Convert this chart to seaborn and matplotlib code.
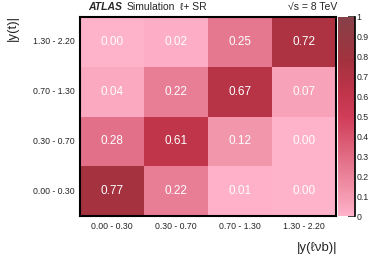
import numpy as np
import pandas as pd
import seaborn as sns
import matplotlib.pyplot as plt
from matplotlib.colors import LinearSegmentedColormap

# rows top -> bottom, columns left -> right
y_t_bins = ['1.30 - 2.20', '0.70 - 1.30', '0.30 - 0.70', '0.00 - 0.30']
y_lvb_bins = ['0.00 - 0.30', '0.30 - 0.70', '0.70 - 1.30', '1.30 - 2.20']
row_1 = [0.00, 0.02, 0.25, 0.72]
row_2 = [0.04, 0.22, 0.67, 0.07]
row_3 = [0.28, 0.61, 0.12, 0.00]
row_4 = [0.77, 0.22, 0.01, 0.00]

df = pd.DataFrame([row_1, row_2, row_3, row_4], index=y_t_bins, columns=y_lvb_bins)

sns.set_style('white')
plt.rcParams['font.family'] = ['Liberation Sans', 'DejaVu Sans']

cmap = LinearSegmentedColormap.from_list('atlas_pink', [
    (0.0, '#ffb3cb'), (0.12, '#f295ab'), (0.25, '#e5778f'),
    (0.5, '#d03c58'), (0.62, '#c0344a'), (0.78, '#a3323e'), (1.0, '#874048')])

fig = plt.figure(figsize=(3.82, 2.59), dpi=100)
ax = fig.add_axes([80/382, 1-216/259, 256/382, 199/259])
cax = fig.add_axes([338/382, 1-216/259, 17/382, 199/259])

sns.heatmap(df, ax=ax, cbar_ax=cax, cmap=cmap, vmin=0, vmax=1,
            annot=True, fmt='.2f', annot_kws={'color': 'white', 'fontsize': 8.5})

# cell-boundary ticks on all sides, labels at centres
ax.set_xticks([1, 2, 3], minor=True)
ax.set_yticks([1, 2, 3], minor=True)
ax.tick_params(which='major', length=0, labelsize=6.3, pad=4)
ax.tick_params(which='minor', direction='in', length=4, width=1.2,
               top=True, bottom=True, left=True, right=True)
ax.set_xticklabels(y_lvb_bins, rotation=0)
ax.set_yticklabels(y_t_bins, rotation=0)
ax.set_xlabel('')
ax.set_ylabel('')
for s in ax.spines.values():
    s.set_visible(True)
    s.set_linewidth(1.5)
    s.set_color('black')

cax.set_yticks(np.arange(0, 1.01, 0.1))
cax.set_yticklabels(['0'] + ['%.1f' % v for v in np.arange(0.1, 0.95, 0.1)] + ['1'])
cax.tick_params(direction='in', length=5, width=1.2, labelsize=6.3, pad=1, right=True)
for name, s in cax.spines.items():
    s.set_visible(name == 'right')
    s.set_linewidth(1.2)
    s.set_color('black')

ty = 1 - 7.5/259
fig.text(88/382, ty, 'ATLAS', fontsize=7.5, fontweight='bold', fontstyle='italic', va='center')
fig.text(127/382, ty, 'Simulation', fontsize=7.5, va='center')
fig.text(180/382, ty, '\u2113+ SR', fontsize=7.5, va='center')
fig.text(337/382, ty, '\u221as = 8 TeV', fontsize=7.5, va='center', ha='right')
fig.text(337/382, 1-248/259, '|y(\u2113\u03bdb)|', fontsize=9.5, va='center', ha='right')
fig.text(13/382, 1-15/259, '|y(t)|', fontsize=9.5, va='top', ha='center', rotation=90)

fig.savefig('out.png', dpi=100)
